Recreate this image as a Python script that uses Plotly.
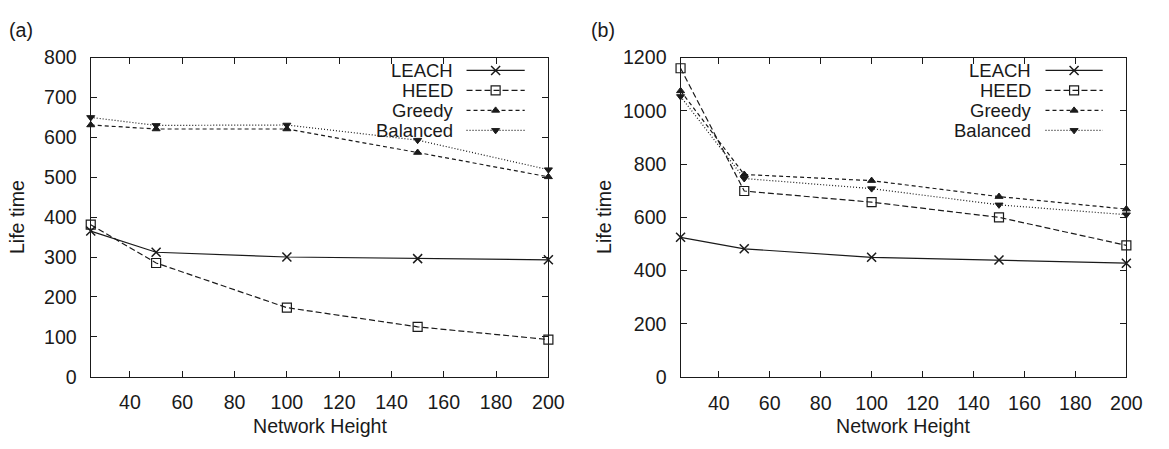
import plotly.graph_objects as go

# Network heights (x) shared by both panels
heights = [25, 50, 100, 150, 200]

# Panel (a) life times
a_leach = [365, 312, 300, 296, 293]
a_heed = [381, 285, 173, 125, 93]
a_greedy = [631, 621, 621, 562, 501]
a_balanced = [650, 630, 631, 593, 519]

# Panel (b) life times
b_leach = [525, 482, 450, 440, 428]
b_heed = [1160, 699, 657, 600, 495]
b_greedy = [1075, 761, 738, 678, 631]
b_balanced = [1054, 746, 708, 647, 610]

series_names = ["LEACH", "HEED", "Greedy", "Balanced"]
x_ticks = [40, 60, 80, 100, 120, 140, 160, 180, 200]
a_y_ticks = [0, 100, 200, 300, 400, 500, 600, 700, 800]
b_y_ticks = [0, 200, 400, 600, 800, 1000, 1200]

W, H = 1169, 449
FONT = "Liberation Sans, Arial, Helvetica, sans-serif"
INK = "#1a1a1a"
FS = 19.6
KEY_FS = 18.5

styles = {
    "LEACH": dict(dash="solid", symbol="x-thin-open", size=9, lw=1.5),
    "HEED": dict(dash="6px,3px", symbol="square-open", size=9, lw=1.2),
    "Greedy": dict(dash="4px,3px", symbol="triangle-up", size=7, lw=1.0),
    "Balanced": dict(dash="1px,2px", symbol="triangle-down", size=7, lw=1.0),
}

# panel boxes in pixels: left, right, top, bottom
panels = {
    "a": (92, 556, 49, 384.5),
    "b": (690, 1142, 49, 385),
}

fig = go.Figure()


def add_series(xref, yref, ys):
    for name, y in zip(series_names, ys):
        s = styles[name]
        fig.add_trace(go.Scatter(
            x=heights, y=y, mode="lines+markers", name=name,
            xaxis=xref, yaxis=yref, showlegend=False, cliponaxis=False,
            line=dict(color=INK, width=1.2, dash=s["dash"]),
            marker=dict(symbol=s["symbol"], size=s["size"], color=INK,
                        line=dict(color=INK, width=s["lw"])),
        ))


add_series("x", "y", [a_leach, a_heed, a_greedy, a_balanced])
add_series("x2", "y2", [b_leach, b_heed, b_greedy, b_balanced])


def axis_common(standoff):
    return dict(
        showline=True, mirror="ticks", linecolor=INK, linewidth=1.2,
        ticks="inside", ticklen=6, tickwidth=1.2, tickcolor=INK,
        showgrid=False, zeroline=False,
        tickfont=dict(family=FONT, size=FS, color=INK),
        ticklabelstandoff=standoff,
    )


def xdom(p):
    l, r, t, b = panels[p]
    return [l / W, r / W]


def ydom(p):
    l, r, t, b = panels[p]
    return [1 - b / H, 1 - t / H]


fig.update_layout(
    xaxis=dict(domain=xdom("a"), range=[25, 200], tickvals=x_ticks, anchor="y", **axis_common(8)),
    yaxis=dict(domain=ydom("a"), range=[0, 800], tickvals=a_y_ticks, anchor="x", **axis_common(9)),
    xaxis2=dict(domain=xdom("b"), range=[25, 200], tickvals=x_ticks, anchor="y2", **axis_common(8)),
    yaxis2=dict(domain=ydom("b"), range=[0, 1200], tickvals=b_y_ticks, anchor="x2", **axis_common(9)),
    # full-figure pixel axes used for the key samples
    xaxis3=dict(domain=[0, 1], range=[0, W], visible=False, anchor="y3", fixedrange=True),
    yaxis3=dict(domain=[0, 1], range=[H, 0], visible=False, anchor="x3", fixedrange=True),
)

# Key: right-aligned labels with line samples to their right
key_rows = [62.5, 83.5, 104.5, 125.5]
key_layout = {"a": (460, 473, 532), "b": (1046, 1060, 1118)}
for p, (text_right, x0, x1) in key_layout.items():
    for name, ry in zip(series_names, key_rows):
        s = styles[name]
        fig.add_trace(go.Scatter(
            x=[x0, x1], y=[ry, ry], mode="lines", xaxis="x3", yaxis="y3",
            showlegend=False, hoverinfo="skip",
            line=dict(color=INK, width=1.2, dash=s["dash"]),
        ))
        fig.add_trace(go.Scatter(
            x=[(x0 + x1) / 2], y=[ry], mode="markers", xaxis="x3", yaxis="y3",
            showlegend=False, hoverinfo="skip", cliponaxis=False,
            marker=dict(symbol=s["symbol"], size=s["size"], color=INK,
                        line=dict(color=INK, width=s["lw"])),
        ))
        fig.add_annotation(
            x=text_right, y=ry, xref="x3", yref="y3", text=name, showarrow=False,
            xanchor="right", yanchor="middle", borderpad=0,
            font=dict(family=FONT, size=KEY_FS, color=INK),
        )

# Panel tags and axis titles
for tag, px in (("(a)", 7), ("(b)", 597)):
    fig.add_annotation(x=px / W, y=1 - 20 / H, xref="paper", yref="paper", text=tag,
                       showarrow=False, xanchor="left", yanchor="middle",
                       font=dict(family=FONT, size=FS, color=INK))
for p, tx in (("a", 18), ("b", 613)):
    l, r, t, b = panels[p]
    fig.add_annotation(x=tx / W, y=1 - 217 / H, xref="paper", yref="paper",
                       text="Life time", textangle=-90, showarrow=False,
                       xanchor="center", yanchor="middle",
                       font=dict(family=FONT, size=FS, color=INK))
    fig.add_annotation(x=((l + r) / 2) / W, y=1 - 436 / H, xref="paper", yref="paper",
                       text="Network Height", showarrow=False,
                       xanchor="center", yanchor="middle",
                       font=dict(family=FONT, size=FS, color=INK))

fig.update_layout(
    width=W, height=H,
    margin=dict(l=0, r=0, t=0, b=0),
    paper_bgcolor="white", plot_bgcolor="rgba(0,0,0,0)",
    showlegend=False,
)

fig.write_html("out.html", config={"displayModeBar": False})
